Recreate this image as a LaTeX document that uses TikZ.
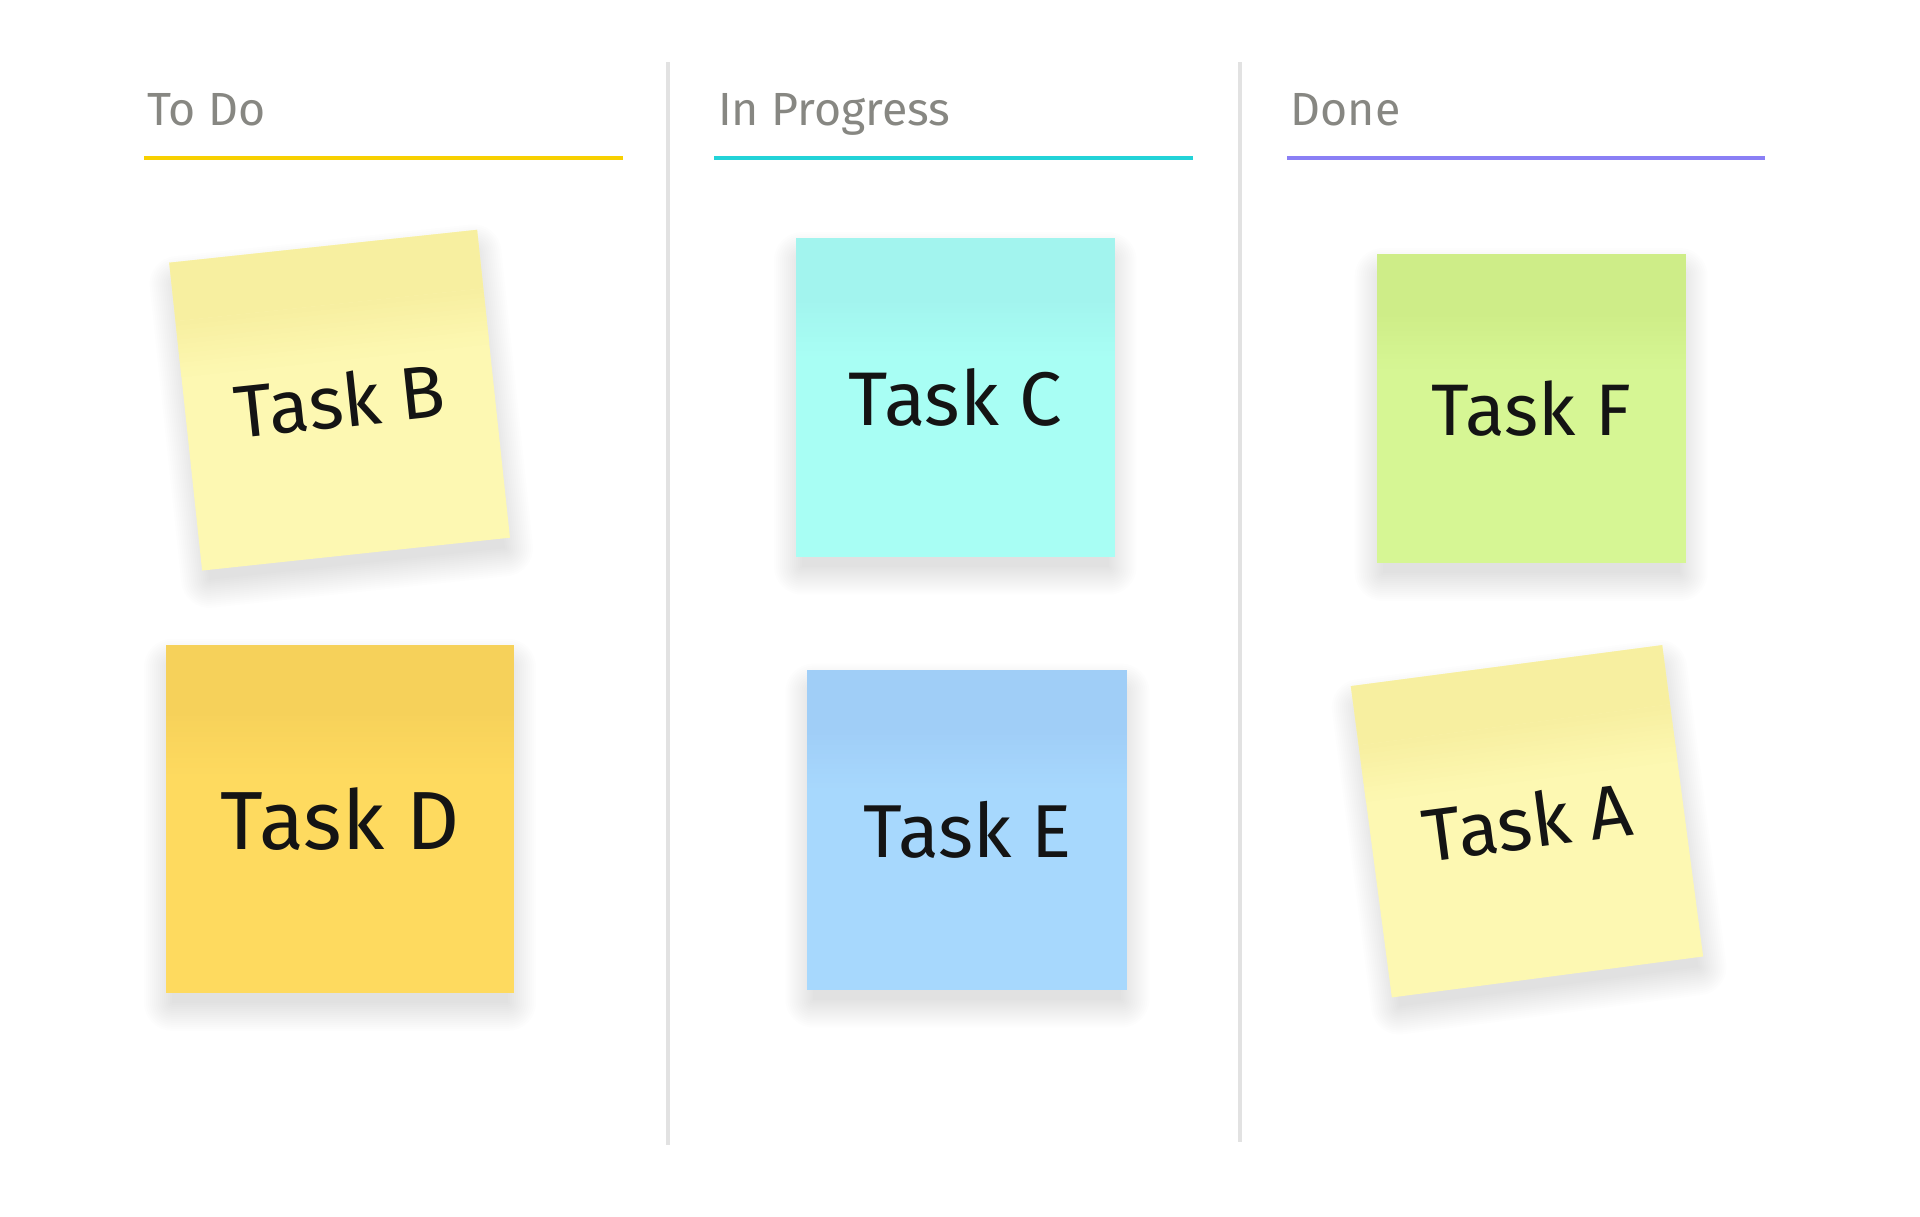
\documentclass[tikz,border=0pt]{standalone}
\usepackage{fontspec}
\setmainfont{Fira Sans}
\definecolor{headgray}{HTML}{878782}
\definecolor{divgray}{HTML}{E2E2E2}
\definecolor{ink}{HTML}{141414}
\definecolor{todoline}{HTML}{F8D000}
\definecolor{progline}{HTML}{22D3D8}
\definecolor{doneline}{HTML}{8A7FF5}
\definecolor{noteA}{HTML}{FDF8B2}\definecolor{topA}{HTML}{F7EFA0}
\definecolor{noteB}{HTML}{FDF8B2}\definecolor{topB}{HTML}{F7EFA0}
\definecolor{noteC}{HTML}{A8FEF4}\definecolor{topC}{HTML}{A2F4EE}
\definecolor{noteD}{HTML}{FEDA5F}\definecolor{topD}{HTML}{F6D15A}
\definecolor{noteE}{HTML}{A7D8FD}\definecolor{topE}{HTML}{A0CEF7}
\definecolor{noteF}{HTML}{D6F694}\definecolor{topF}{HTML}{CEED88}
\begin{document}
\begin{tikzpicture}[x=1pt,y=-1pt,
	head/.style={anchor=base west,inner sep=0,text=headgray,font=\fontsize{46.5}{50}\selectfont},
	bar/.style={line width=4pt},
	divider/.style={line width=3.5pt,draw=divgray},
	tasklabel/.style={inner sep=0,text=ink,transform shape}]
	\useasboundingbox[fill=white] (0,0) rectangle (1920,1216);
	% column dividers
	\draw[divider] (668,62)--(668,1145);
	\draw[divider] (1240,62)--(1240,1142);
	% column heads
	\node[head] (todo) at (147,125) {To Do};
	\node[head] (prog) at (718,125) {In Progress};
	\node[head] (done) at (1290.5,125) {Done};
	\draw[bar,draw=todoline] (144,158)--(622.5,158);
	\draw[bar,draw=progline] (714,158)--(1193,158);
	\draw[bar,draw=doneline] (1287,158)--(1765,158);
	% sticky notes: id/centre/angle/half side/font size
	\foreach \id/\cx/\cy/\ang/\hs/\fs in {B/339.6/400.2/6.1/154.8/74,D/340/818.8/0/174/82.5,
		C/955.3/397.4/0/159.3/76,E/967.4/829.6/0/160/75,F/1531.2/408.5/0/154.5/73,A/1527/821.3/7.5/157/74.5}{
		\begin{scope}[shift={(\cx,\cy)},rotate=\ang]
			\foreach \k in {0,...,14}
				\fill[black,opacity=.008,rounded corners={\k*2pt}] (-\hs+6-2*\k,16-\hs+6-2*\k) rectangle (\hs-6+2*\k,16+\hs-6+2*\k);
			\fill[note\id] (-\hs,-\hs) rectangle (\hs,\hs);
			\fill[top\id] (-\hs,-\hs) rectangle (\hs,-.62*\hs);
			% soft edge of the darker top band
			\foreach \t [evaluate=\t as \pct using {int(96-8*\t)}] in {0,...,11}
				\fill[top\id!\pct!note\id] (-\hs,-.62*\hs+.03*\t*\hs) rectangle (\hs,-.59*\hs+.03*\t*\hs+.4);
			\node[tasklabel,font=\fontsize{\fs}{\fs}\selectfont] (task\id) at (0,0) {Task \id};
		\end{scope}}
\end{tikzpicture}
\end{document}
